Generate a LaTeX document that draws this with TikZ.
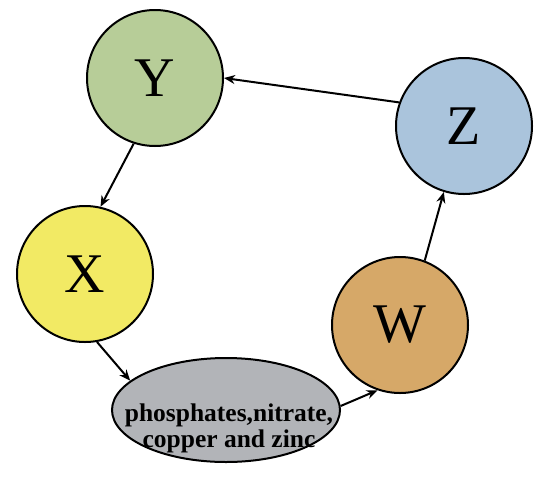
\documentclass[tikz,border=0pt]{standalone}
\usepackage{fontspec}
\setmainfont{Liberation Serif}
\usetikzlibrary{shapes.geometric,arrows.meta}
\definecolor{cY}{RGB}{183,205,152}
\definecolor{cZ}{RGB}{170,196,220}
\definecolor{cX}{RGB}{242,234,100}
\definecolor{cW}{RGB}{214,168,104}
\definecolor{cE}{RGB}{178,180,184}
\begin{document}
\begin{tikzpicture}[x=1pt,y=-1pt,
  bubble/.style={circle,draw=black,line width=2pt,minimum size=136pt,inner sep=0pt,font=\fontsize{56}{56}\selectfont},
  blob/.style={ellipse,draw=black,line width=2pt,minimum width=228pt,minimum height=104pt,inner sep=0pt},
  blobtext/.style={align=center,inner sep=0pt,font=\fontsize{25.5}{25.5}\selectfont\bfseries},
  conn/.style={line width=2pt,-{Stealth[length=11pt,width=9pt]}}]
\useasboundingbox (0,0) rectangle (538,483);
\node[bubble,fill=cY] (Y) at (155,78) {Y};
\node[bubble,fill=cZ] (Z) at (464,126) {Z};
\node[bubble,fill=cX] (X) at (85,274) {X};
\node[bubble,fill=cW] (W) at (400,325) {W};
\node[blob,fill=cE] (E) at (226,410) {};
\node[blobtext,anchor=base] (Et) at (229,447) {phosphates,nitrate,\\copper and zinc};
\draw[conn] (Z.160) -- (Y.0);
\draw[conn] (Y.252) -- (X.77);
\draw[conn] (X.280) -- (E.163);
\draw[conn] (E.2) -- (W.251);
\draw[conn] (W.69) -- (Z.253);
\end{tikzpicture}
\end{document}
